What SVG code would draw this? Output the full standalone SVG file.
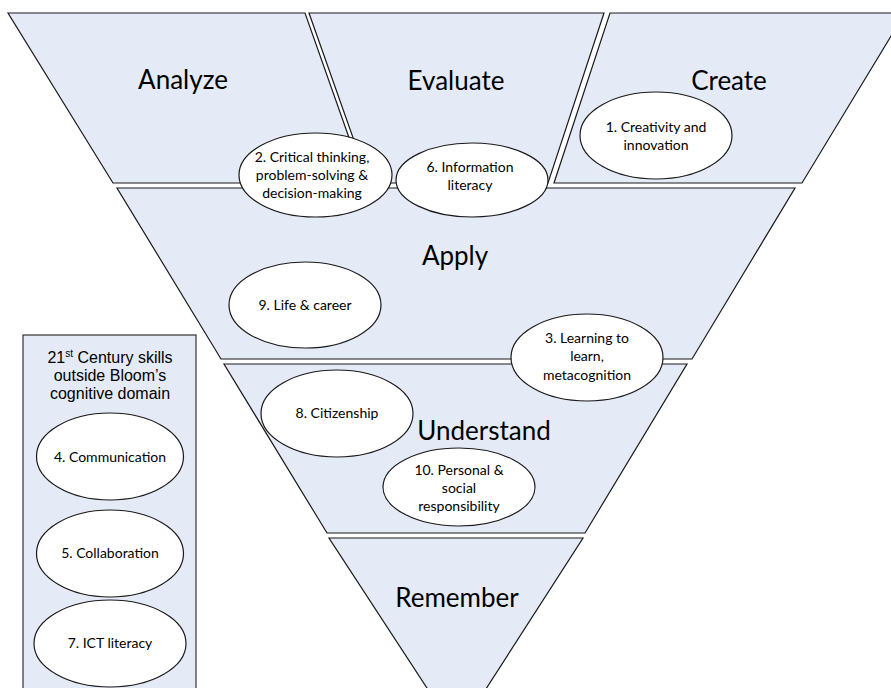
<svg xmlns="http://www.w3.org/2000/svg" width="891" height="688" viewBox="0 0 891 688">
<style>
.lvl{fill:#E5EBF6;stroke:#1a1a1a;stroke-width:1.2}
.ell{fill:#ffffff;stroke:#1a1a1a;stroke-width:1.2}
.title{font-family:Lato,"Liberation Sans",sans-serif;font-size:26px;fill:#000;text-anchor:middle}
.lbl{font-family:Lato,"Liberation Sans",sans-serif;font-size:14px;fill:#000;text-anchor:middle}
.box{fill:#E5EBF6;stroke:#333;stroke-width:1.2}
.boxt{font-family:"Liberation Sans",Arial,sans-serif;font-size:16px;fill:#000;text-anchor:middle}
</style>
<rect width="891" height="688" fill="#fff"/>
<g id="analyze">
<polygon class="lvl" points="8,13 305,13 365,183 113,183"/>
<text class="title" x="183" y="89">Analyze</text>
</g>
<g id="evaluate">
<polygon class="lvl" points="309,13 604,13 548,183 369,183"/>
<text class="title" x="456" y="90">Evaluate</text>
</g>
<g id="create">
<polygon class="lvl" points="610,13 905,13 802,183 554,183"/>
<text class="title" x="729" y="90">Create</text>
</g>
<g id="apply">
<polygon class="lvl" points="117,188 795,188 692,359 221,359"/>
<text class="title" x="455" y="265">Apply</text>
</g>
<g id="understand">
<polygon class="lvl" points="224,364 687,364 585,533 327,533"/>
<text class="title" x="484" y="440">Understand</text>
</g>
<g id="remember">
<polygon class="lvl" points="329,538 583,538 457,734"/>
<text class="title" x="457" y="607">Remember</text>
</g>
<g id="skill2">
<ellipse class="ell" cx="315.5" cy="175" rx="76.5" ry="42"/>
<text class="lbl" x="312" y="162">2. Critical thinking,</text>
<text class="lbl" x="312" y="180">problem-solving &amp;</text>
<text class="lbl" x="312" y="198">decision-making</text>
</g>
<g id="skill6">
<ellipse class="ell" cx="472" cy="180" rx="76" ry="37"/>
<text class="lbl" x="470" y="172">6. Information</text>
<text class="lbl" x="470" y="190">literacy</text>
</g>
<g id="skill1">
<ellipse class="ell" cx="656" cy="135.5" rx="76" ry="43.5"/>
<text class="lbl" x="656" y="132">1. Creativity and</text>
<text class="lbl" x="656" y="150">innovation</text>
</g>
<g id="skill9">
<ellipse class="ell" cx="305" cy="305" rx="76" ry="43"/>
<text class="lbl" x="305" y="310">9. Life &amp; career</text>
</g>
<g id="skill3">
<ellipse class="ell" cx="587" cy="357.5" rx="76" ry="43.5"/>
<text class="lbl" x="587" y="343">3. Learning to</text>
<text class="lbl" x="587" y="361">learn,</text>
<text class="lbl" x="587" y="380">metacognition</text>
</g>
<g id="skill8">
<ellipse class="ell" cx="337" cy="413.5" rx="76" ry="43.5"/>
<text class="lbl" x="337" y="418">8. Citizenship</text>
</g>
<g id="skill10">
<ellipse class="ell" cx="459" cy="487" rx="76" ry="39"/>
<text class="lbl" x="459" y="475">10. Personal &amp;</text>
<text class="lbl" x="459" y="493">social</text>
<text class="lbl" x="459" y="511">responsibility</text>
</g>
<g id="outside-box">
<rect class="box" x="23" y="335" width="173" height="370"/>
<text class="boxt" x="110" y="363">21<tspan font-size="10" dy="-6">st</tspan><tspan dy="6"> Century skills</tspan></text>
<text class="boxt" x="110" y="381">outside Bloom’s</text>
<text class="boxt" x="110" y="399">cognitive domain</text>
</g>
<g id="skill4">
<ellipse class="ell" cx="110" cy="456.5" rx="73.5" ry="43.5"/>
<text class="lbl" x="110" y="462">4. Communication</text>
</g>
<g id="skill5">
<ellipse class="ell" cx="110" cy="553.5" rx="73.5" ry="43.5"/>
<text class="lbl" x="110" y="558">5. Collaboration</text>
</g>
<g id="skill7">
<ellipse class="ell" cx="110" cy="643.5" rx="76" ry="43.5"/>
<text class="lbl" x="110" y="648">7. ICT literacy</text>
</g>
<g id="connectors"></g>
</svg>
